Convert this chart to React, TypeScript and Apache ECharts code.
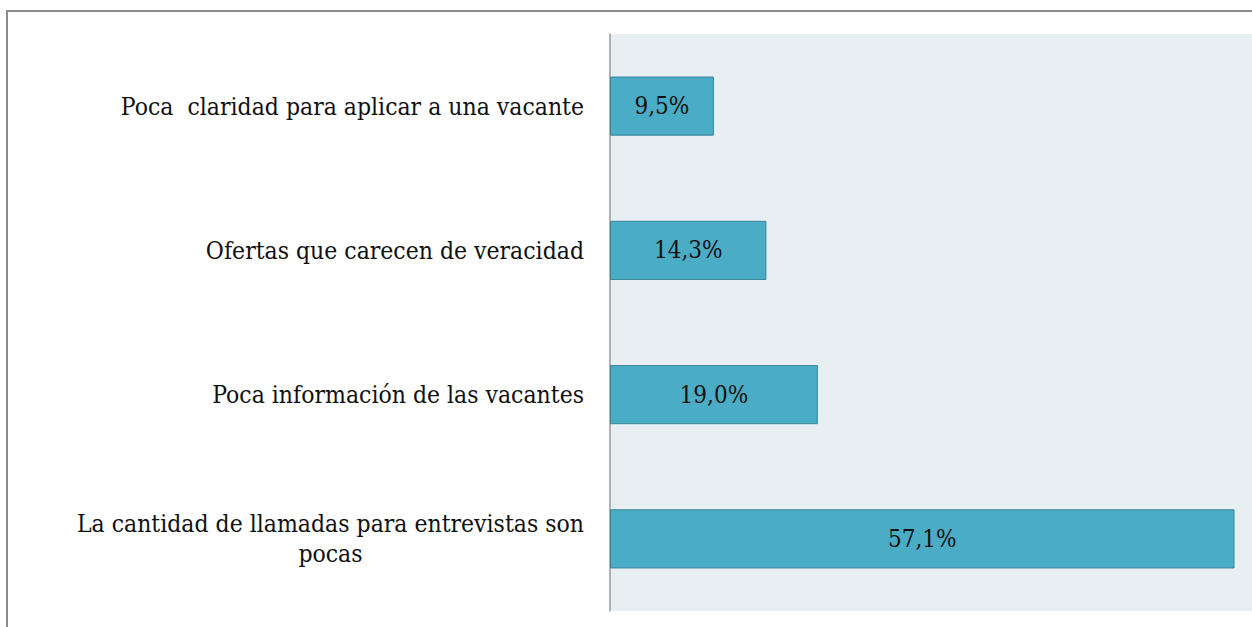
import React, { useEffect, useRef } from "react";
import * as echarts from "echarts";

const categories = [
  "Poca  claridad para aplicar a una vacante",
  "Ofertas que carecen de veracidad",
  "Poca información de las vacantes",
  "La cantidad de llamadas para entrevistas son\npocas",
];
const values = [9.5, 14.3, 19.0, 57.1];
const axisMax = 58.7;

const FONT = "'DejaVu Serif Condensed', 'DejaVu Serif', serif";
const FS = 24.5;
const VFS = 24;

export default function App() {
  const ref = useRef<HTMLDivElement>(null);
  useEffect(() => {
    if (!ref.current) return;
    const chart = echarts.init(ref.current, null, { renderer: "svg" });
    chart.setOption({
      animation: false,
      backgroundColor: "#ffffff",
      grid: {
        left: 610,
        top: 34,
        right: 0,
        height: 577,
        show: true,
        backgroundColor: "#E8EFF3",
        borderWidth: 0,
        containLabel: false,
      },
      xAxis: {
        type: "value",
        min: 0,
        max: axisMax,
        show: false,
        splitLine: { show: false },
      },
      yAxis: {
        type: "category",
        data: categories,
        inverse: true,
        axisLine: { show: true, lineStyle: { color: "#9a9a9a", width: 1.5 } },
        axisTick: { show: false },
        axisLabel: {
          margin: 26,
          color: "#111",
          align: "right",
          fontFamily: FONT,
          fontSize: FS,
          formatter: (v: string) => {
            const parts = v.split("\n");
            if (parts.length === 1) return "{a|" + v + "}";
            return "{a|" + parts[0] + "}\n{b|" + parts[1] + "}";
          },
          rich: {
            a: { fontFamily: FONT, fontSize: FS, color: "#111", lineHeight: 30 },
            b: { fontFamily: FONT, fontSize: FS, color: "#111", lineHeight: 30, align: "center" },
          },
        },
      },
      series: [
        {
          type: "bar",
          data: values,
          barWidth: "41%",
          itemStyle: { color: "#4BACC6", borderColor: "#3A8499", borderWidth: 1 },
          label: {
            show: true,
            position: "inside",
            color: "#111",
            fontFamily: FONT,
            fontSize: VFS,
            formatter: (p: any) => p.value.toFixed(1).replace(".", ",") + "%",
          },
        },
      ],
      graphic: [
        {
          type: "rect",
          shape: { x: 7, y: 11, width: 1300, height: 700 },
          style: { fill: "none", stroke: "#8c8c8c", lineWidth: 2 },
          z: 100,
        },
      ],
    });
    return () => chart.dispose();
  }, []);
  return (
    <div
      ref={ref}
      style={{ position: "fixed", left: 0, top: 0, width: 1252, height: 627 }}
    />
  );
}
